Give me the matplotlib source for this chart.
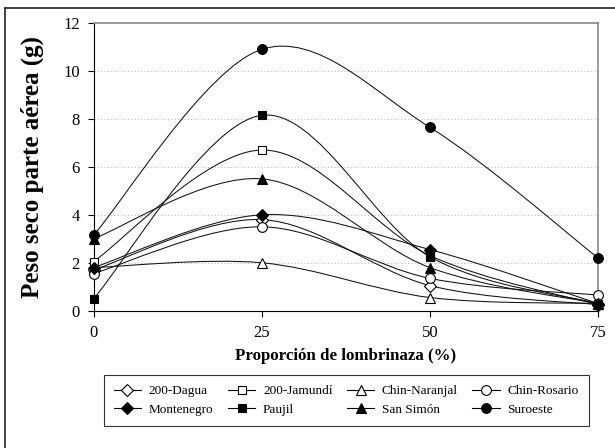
import matplotlib
matplotlib.use("Agg")
import matplotlib.pyplot as plt
from matplotlib.path import Path
from matplotlib.patches import PathPatch
from matplotlib.lines import Line2D

plt.rcParams['font.family'] = ['Liberation Serif', 'DejaVu Serif']

# proportion of vermicompost (%)
proportion = [0, 25, 50, 75]

# dry weight of aerial part (g)
dagua = [1.70, 3.80, 1.05, 0.25]
jamundi = [2.05, 6.70, 2.30, 0.25]
naranjal = [1.80, 2.00, 0.55, 0.30]
rosario = [1.55, 3.50, 1.35, 0.65]
montenegro = [1.80, 4.00, 2.55, 0.30]
paujil = [0.50, 8.15, 2.25, 0.30]
san_simon = [3.00, 5.50, 1.80, 0.30]
suroeste = [3.15, 10.90, 7.65, 2.20]

names = ["200-Dagua", "200-Jamundí", "Chin-Naranjal", "Chin-Rosario",
         "Montenegro", "Paujil", "San Simón", "Suroeste"]
series = [dagua, jamundi, naranjal, rosario,
          montenegro, paujil, san_simon, suroeste]
markers = ["D", "s", "^", "o", "D", "s", "^", "o"]
faces = ["white"] * 4 + ["black"] * 4
sizes = [6, 6, 7, 7, 6, 6, 7, 7]


def smooth_path(xs, ys):
    """Excel-style smoothed line as cubic Bezier segments"""
    pts = list(zip(xs, ys))
    n = len(pts)
    verts = [pts[0]]
    codes = [Path.MOVETO]
    for i in range(n - 1):
        p0 = pts[i - 1] if i > 0 else pts[i]
        p1 = pts[i]
        p2 = pts[i + 1]
        p3 = pts[i + 2] if i + 2 < n else pts[i + 1]
        c1 = (p1[0] + (p2[0] - p0[0]) / 6, p1[1] + (p2[1] - p0[1]) / 6)
        c2 = (p2[0] - (p3[0] - p1[0]) / 6, p2[1] - (p3[1] - p1[1]) / 6)
        verts += [c1, c2, p2]
        codes += [Path.CURVE4] * 3
    return Path(verts, codes)


fig = plt.figure(figsize=(6.15, 4.48), dpi=100)
ax = fig.add_axes([93.5 / 615, 1 - 310.7 / 448, (598 - 93.5) / 615, (310.7 - 23) / 448])

for vals, m, fc, ms in zip(series, markers, faces, sizes):
    ax.add_patch(PathPatch(smooth_path(proportion, vals), fill=False,
                           edgecolor="#111111", lw=0.75, zorder=3))
    ax.plot(proportion, vals, ls="none", marker=m, ms=ms, mfc=fc,
            mec="black", mew=0.8, clip_on=False, zorder=4)

ax.set_xlim(0, 75)
ax.set_ylim(0, 12)
ax.set_xticks(proportion)
ax.set_yticks(range(0, 13, 2))
ax.tick_params(direction="out", length=4, width=0.8, labelsize=12, pad=6)
for y in range(2, 12, 2):
    ax.axhline(y, color="#bbbbbb", lw=0.8, ls=(0, (1, 2)), zorder=1)
ax.spines["top"].set_color("#888888")
ax.spines["right"].set_color("#888888")
ax.spines["top"].set_linewidth(1.2)
ax.spines["right"].set_linewidth(1.2)

ax.set_xlabel("Proporción de lombrinaza (%)", fontsize=12.2, fontweight="bold", labelpad=5)
ax.set_ylabel("Peso seco parte aérea (g)", fontsize=18, fontweight="bold", labelpad=14)

# legend is filled column by column, so reorder to read row by row
order = [0, 4, 1, 5, 2, 6, 3, 7]
handles = [Line2D([], [], color="black", lw=0.8, marker=markers[i], ms=sizes[i],
                  mfc=faces[i], mec="black", mew=0.8) for i in order]
labels = [names[i] for i in order]
leg = fig.legend(handles, labels, ncol=4, loc="upper left",
                 bbox_to_anchor=(104 / 615, 1 - 375 / 448),
                 fontsize=9.5, frameon=True, fancybox=False, edgecolor="black",
                 handlelength=2.05, handletextpad=0.6, columnspacing=1.1,
                 borderpad=0.75, labelspacing=0.5, borderaxespad=0)
leg.get_frame().set_linewidth(0.8)

# outer chart border (only top and left show in the crop)
fig.add_artist(Line2D([5 / 615, 5 / 615], [0, 1 - 8 / 448], color="#222222", lw=1.2))
fig.add_artist(Line2D([5 / 615, 1], [1 - 8 / 448, 1 - 8 / 448], color="#222222", lw=1.2))

fig.savefig("out.png", dpi=100)
